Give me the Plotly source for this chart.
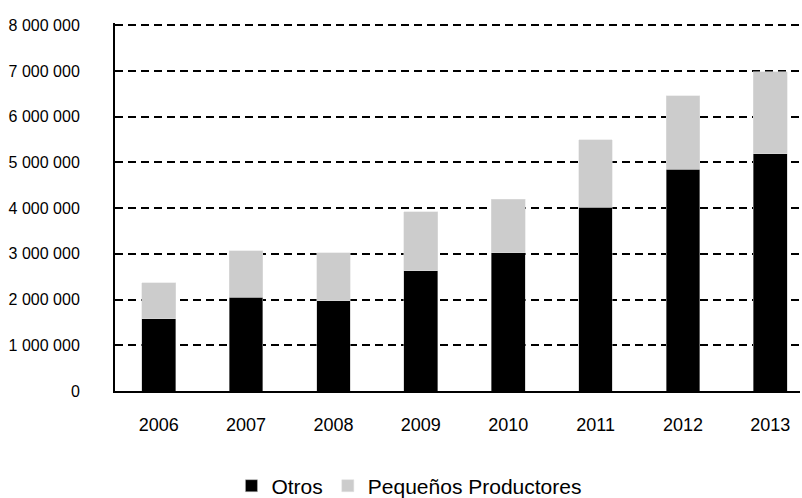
import plotly.graph_objects as go

years = ["2006", "2007", "2008", "2009", "2010", "2011", "2012", "2013"]
otros = [1580000, 2050000, 1970000, 2630000, 3020000, 4020000, 4850000, 5190000]
pequenos = [790000, 1020000, 1050000, 1290000, 1170000, 1480000, 1610000, 1790000]
y_ticks = [0, 1000000, 2000000, 3000000, 4000000, 5000000, 6000000, 7000000, 8000000]

FONT = "Liberation Sans, Arial, sans-serif"

fig = go.Figure()
fig.add_trace(go.Bar(x=years, y=otros, name="Otros",
                     marker=dict(color="#000000", line=dict(color="#bbbbbb", width=0.5)),
                     width=0.385))
fig.add_trace(go.Bar(x=years, y=pequenos, name="Pequeños Productores",
                     marker=dict(color="#cccccc", line=dict(color="#e0e0e0", width=0.5)),
                     width=0.385))

fig.update_layout(
    barmode="stack",
    width=802, height=498,
    margin=dict(l=115, r=2, t=23, b=107, autoexpand=False),
    paper_bgcolor="white", plot_bgcolor="white",
    separators=", ",
    font=dict(family=FONT, size=16, color="#000000"),
    showlegend=True,
    legend=dict(orientation="h", x=0.17, xanchor="left",
                yref="container", y=0.024, yanchor="middle",
                font=dict(family=FONT, size=21, color="#000000"),
                itemwidth=30, traceorder="normal"),
    xaxis=dict(
        type="category", range=[-0.5, 7.34],
        showline=True, linecolor="#000000", linewidth=2,
        showgrid=False, ticks="", ticklabelstandoff=16,
        tickfont=dict(family=FONT, size=18),
    ),
    yaxis=dict(
        range=[0, 8050000], tickvals=y_ticks, tickformat=",d",
        showline=True, linecolor="#000000", linewidth=2,
        showgrid=True, gridcolor="#000000", gridwidth=2, griddash="8px,5px",
        ticks="", ticklabelstandoff=30, zeroline=False,
        tickfont=dict(family=FONT, size=16),
    ),
)

fig.write_html("out.html", config={"displayModeBar": False},
               post_script="document.body.style.margin='0';")
